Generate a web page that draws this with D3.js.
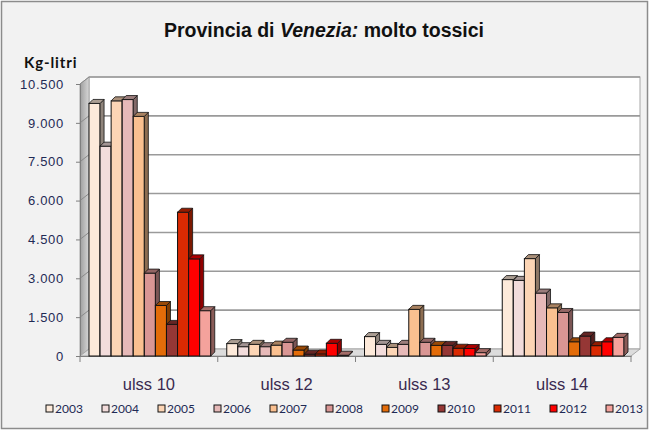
<!DOCTYPE html>
<html>
<head>
<meta charset="utf-8">
<script src="https://cdn.jsdelivr.net/npm/d3@7"></script>
<style>
  body { margin: 0; background: #fff; }
  svg { display: block; font-family: Lato, "Liberation Sans", sans-serif; }
</style>
</head>
<body>
<div id="chart"></div>
<script>
const categories = ["ulss 10", "ulss 12", "ulss 13", "ulss 14"];
const years = ["2003", "2004", "2005", "2006", "2007", "2008", "2009", "2010", "2011", "2012", "2013"];
const colors = ["#FDEADA", "#F2DCDB", "#FCD5B5", "#E6B9B8", "#FAC090", "#D99694",
                "#E36C09", "#953735", "#DA2A02", "#FF0000", "#F4A29C"];
// values per category, one per year
const ulss10 = [9750, 8100, 9850, 9900, 9250, 3200, 1950, 1220, 5550, 3750, 1750];
const ulss12 = [480, 360, 450, 360, 420, 530, 230, 70, 80, 490, 30];
const ulss13 = [750, 450, 330, 450, 1800, 530, 410, 410, 300, 290, 130];
const ulss14 = [2950, 2920, 3760, 2430, 1860, 1680, 550, 770, 400, 550, 720];
const yTicks = [0, 1500, 3000, 4500, 6000, 7500, 9000, 10500];

const seriesByCat = [ulss10, ulss12, ulss13, ulss14];

const W = 649, H = 430;
const svg = d3.select("#chart").append("svg").attr("width", W).attr("height", H);

// chart area background + border
svg.append("rect").attr("x", 1.5).attr("y", 1.5).attr("width", W - 3).attr("height", H - 3)
  .attr("fill", "#F2F2F2").attr("stroke", "#8C8C8C").attr("stroke-width", 1.5);

// front plane geometry
const left = 80, right = 631, base = 356;
const depthX = 9, depthY = 7; // wall depth

const y = d3.scaleLinear().domain([0, 10500]).range([base, 84]);
const x = d3.scaleBand().domain(categories).range([left, right]).padding(0);
const xi = d3.scaleBand().domain(years).range([9, x.bandwidth() - 7]).padding(0);

const loc = d3.formatLocale({ decimal: ",", thousands: ".", grouping: [3], currency: ["", ""] });
const fmt = loc.format(",");

// === Back wall ===
const defs = svg.append("defs");
const wallGrad = defs.append("linearGradient").attr("id", "wallGrad")
  .attr("x1", "0%").attr("x2", "100%").attr("y1", "0%").attr("y2", "0%");
wallGrad.append("stop").attr("offset", "0%").attr("stop-color", "#9E9E9E");
wallGrad.append("stop").attr("offset", "100%").attr("stop-color", "#D6D6D6");

svg.append("rect")
  .attr("x", left + depthX).attr("y", y(10500) - depthY)
  .attr("width", right - left).attr("height", base - y(10500))
  .attr("fill", "#fff").attr("stroke", "#A6A6A6");

// side wall
svg.append("polygon")
  .attr("points", [[left, base], [left + depthX, base - depthY], [left + depthX, y(10500) - depthY], [left, y(10500)]].join(" "))
  .attr("fill", "url(#wallGrad)").attr("stroke", "#A6A6A6");

// floor
svg.append("polygon")
  .attr("points", [[left, base], [right, base], [right + depthX, base - depthY], [left + depthX, base - depthY]].join(" "))
  .attr("fill", "#DCDCDC").attr("stroke", "#A6A6A6");

// gridlines
svg.append("g").selectAll("line")
  .data(yTicks.filter(d => d > 0))
  .join("line")
  .attr("x1", left + depthX).attr("x2", right + depthX)
  .attr("y1", d => y(d) - depthY).attr("y2", d => y(d) - depthY)
  .attr("stroke", "#9A9A9A").attr("stroke-width", 1.6);
svg.append("g").selectAll("line")
  .data(yTicks.filter(d => d > 0))
  .join("line")
  .attr("x1", left).attr("x2", left + depthX)
  .attr("y1", d => y(d)).attr("y2", d => y(d) - depthY)
  .attr("stroke", "#8A8A8A").attr("stroke-width", 1);

// === Y Axis ===
const yAxis = svg.append("g")
  .attr("transform", `translate(${left},0)`)
  .call(d3.axisLeft(y).tickValues(yTicks).tickFormat(fmt).tickSize(4).tickPadding(12));
yAxis.select(".domain").attr("stroke", "#7F7F7F");
yAxis.selectAll(".tick line").attr("stroke", "#7F7F7F");
yAxis.selectAll("text")
  .style("font-size", "13px")
  .style("letter-spacing", "0.7px")
  .style("fill", "#1F2A55");

// === X Axis ===
const xAxis = svg.append("g")
  .attr("transform", `translate(0,${base})`)
  .call(d3.axisBottom(x).tickSize(0).tickPadding(22));
xAxis.select(".domain").attr("stroke", "#7F7F7F");
xAxis.selectAll("text")
  .style("font-size", "16.5px")
  .style("fill", "#3A2A50");
svg.append("g").selectAll("line")
  .data(d3.range(categories.length + 1))
  .join("line")
  .attr("x1", i => left + i * x.bandwidth()).attr("x2", i => left + i * x.bandwidth())
  .attr("y1", base).attr("y2", base + 6)
  .attr("stroke", "#7F7F7F");

// === 3D bars ===
const dx = 4, dy = 4;
const bars = [];
categories.forEach((c, ci) => {
  years.forEach((yr, yi) => {
    bars.push({ cat: c, year: yr, yi, value: seriesByCat[ci][yi] });
  });
});

const barG = svg.append("g").selectAll("g")
  .data(bars)
  .join("g");

barG.each(function (d) {
  const g = d3.select(this);
  const x0 = x(d.cat) + xi(d.year);
  const w = xi.bandwidth();
  const top = y(d.value);
  const col = d3.color(colors[d.yi]);
  g.append("rect")
    .attr("x", x0).attr("y", top).attr("width", w).attr("height", base - top)
    .attr("fill", col).attr("stroke", "#111").attr("stroke-width", 1);
  g.append("polygon")
    .attr("points", [[x0 + w, base], [x0 + w + dx, base - dy], [x0 + w + dx, top - dy], [x0 + w, top]].join(" "))
    .attr("fill", col.darker(1.6)).attr("stroke", "#111").attr("stroke-width", 0.8);
  g.append("polygon")
    .attr("points", [[x0, top], [x0 + dx, top - dy], [x0 + w + dx, top - dy], [x0 + w, top]].join(" "))
    .attr("fill", col.darker(1.1)).attr("stroke", "#111").attr("stroke-width", 0.8);
});

// === Title ===
const title = svg.append("text")
  .attr("x", 324).attr("y", 37)
  .attr("text-anchor", "middle")
  .style("font-family", "'Liberation Sans', Arial, sans-serif")
  .style("font-size", "19.5px")
  .style("font-weight", "bold")
  .style("fill", "#111");
title.append("tspan").text("Provincia di ");
title.append("tspan").style("font-style", "italic").text("Venezia:");
title.append("tspan").text(" molto tossici");

svg.append("text")
  .attr("x", 24).attr("y", 68)
  .style("font-size", "15px")
  .style("letter-spacing", "0.9px")
  .style("font-weight", "bold")
  .style("fill", "#111")
  .text("Kg-litri");

// === Legend ===
const legend = svg.append("g").selectAll("g")
  .data(years)
  .join("g")
  .attr("transform", (d, i) => `translate(${46 + i * 56},405)`);
legend.append("rect")
  .attr("width", 7).attr("height", 7)
  .attr("fill", (d, i) => colors[i])
  .attr("stroke", "#111").attr("stroke-width", 1);
legend.append("text")
  .attr("x", 9).attr("y", 8)
  .style("font-size", "12px")
  .style("fill", "#1F2A55")
  .text(d => d);
</script>
</body>
</html>
